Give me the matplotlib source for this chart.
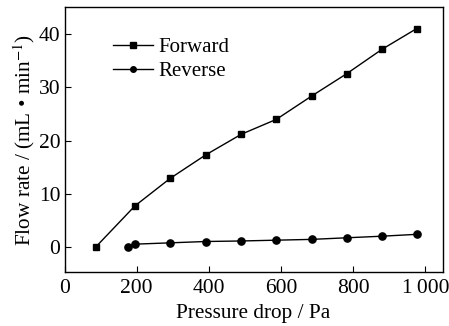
import numpy as np
import matplotlib
matplotlib.use("Agg")
import matplotlib.pyplot as plt

# data
fwd_x = [87, 195, 293, 391, 490, 587, 685, 782, 880, 976]
fwd_y = [0.0, 7.7, 12.9, 17.3, 21.2, 24.0, 28.4, 32.6, 37.2, 41.1]
rev_x = [175, 195, 293, 391, 490, 587, 685, 782, 880, 976]
rev_y = [0.0, 0.5, 0.75, 1.0, 1.1, 1.25, 1.4, 1.7, 2.0, 2.35]
x_ticks = [0, 200, 400, 600, 800, 1000]
x_tick_labels = ["0", "200", "400", "600", "800", "1\u2009000"]
y_ticks = [0, 10, 20, 30, 40]

plt.rcParams['font.family'] = ['Liberation Serif', 'DejaVu Serif']
plt.rcParams['mathtext.fontset'] = 'stix'

fig = plt.figure(figsize=(4.49, 3.26), dpi=100)
ax = fig.add_axes([0.1437, 0.1647, 0.986 - 0.1437, 0.9776 - 0.1647])

ax.plot(fwd_x, fwd_y, color='black', lw=1.0, marker='s', markersize=4.6, label='Forward')
ax.plot(rev_x, rev_y, color='black', lw=1.0, marker='o', markersize=5.2, label='Reverse')

ax.set_xlim(0, 1048)
ax.set_ylim(-4.8, 45.1)
ax.set_xticks(x_ticks)
ax.set_xticklabels(x_tick_labels)
ax.set_yticks(y_ticks)
ax.tick_params(direction='in', length=4, labelsize=15.5, top=False, right=False)
ax.tick_params(axis='x', pad=5)
ax.tick_params(axis='y', pad=3)
for s in ax.spines.values():
    s.set_linewidth(1.0)

ax.set_xlabel('Pressure drop / Pa', fontsize=15.3, labelpad=4)
ax.set_ylabel('Flow rate / (mL \u2022 min$^{-1}$)', fontsize=15.3, labelpad=1)

leg = ax.legend(loc='upper left', bbox_to_anchor=(0.128, 0.886), frameon=False, fontsize=15,
                handlelength=1.92, handletextpad=0.25, labelspacing=0.2,
                borderaxespad=0, borderpad=0)
for h in leg.legend_handles:
    h.set_markersize(4)

fig.savefig('out.png', dpi=100)
